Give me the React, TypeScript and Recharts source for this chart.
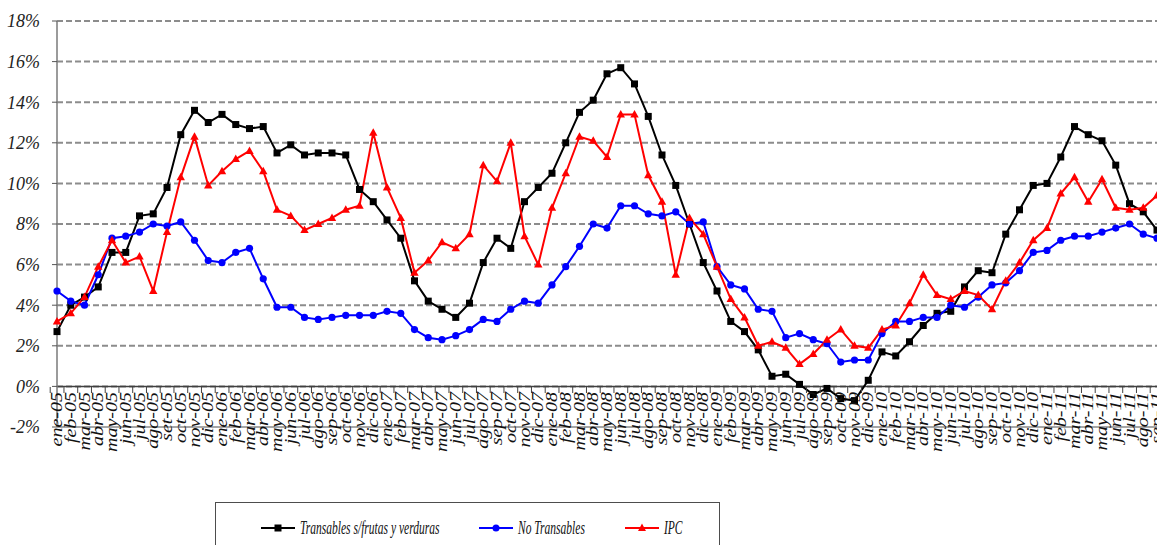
import React from "react";
import { LineChart, Line, XAxis, YAxis, CartesianGrid, ReferenceLine } from "recharts";

const months = [
  "ene-05", "feb-05", "mar-05", "abr-05", "may-05", "jun-05", "jul-05", "ago-05", "set-05", "oct-05", "nov-05", "dic-05",
  "ene-06", "feb-06", "mar-06", "abr-06", "may-06", "jun-06", "jul-06", "ago-06", "sep-06", "oct-06", "nov-06", "dic-06",
  "ene-07", "feb-07", "mar-07", "abr-07", "may-07", "jun-07", "jul-07", "ago-07", "sep-07", "oct-07", "nov-07", "dic-07",
  "ene-08", "feb-08", "mar-08", "abr-08", "may-08", "jun-08", "jul-08", "ago-08", "sep-08", "oct-08", "nov-08", "dic-08",
  "ene-09", "feb-09", "mar-09", "abr-09", "may-09", "jun-09", "jul-09", "ago-09", "sep-09", "oct-09", "nov-09", "dic-09",
  "ene-10", "feb-10", "mar-10", "abr-10", "may-10", "jun-10", "jul-10", "ago-10", "sep-10", "oct-10", "nov-10", "dic-10",
  "ene-11", "feb-11", "mar-11", "abr-11", "may-11", "jun-11", "jul-11", "ago-11", "sep-11",
];

// Transables s/frutas y verduras
const transables = [
  2.7, 4.0, 4.4, 4.9, 6.6, 6.6, 8.4, 8.5, 9.8, 12.4, 13.6, 13.0,
  13.4, 12.9, 12.7, 12.8, 11.5, 11.9, 11.4, 11.5, 11.5, 11.4, 9.7, 9.1,
  8.2, 7.3, 5.2, 4.2, 3.8, 3.4, 4.1, 6.1, 7.3, 6.8, 9.1, 9.8,
  10.5, 12.0, 13.5, 14.1, 15.4, 15.7, 14.9, 13.3, 11.4, 9.9, 8.0, 6.1,
  4.7, 3.2, 2.7, 1.8, 0.5, 0.6, 0.1, -0.4, -0.1, -0.6, -0.7, 0.3,
  1.7, 1.5, 2.2, 3.0, 3.6, 3.7, 4.9, 5.7, 5.6, 7.5, 8.7, 9.9,
  10.0, 11.3, 12.8, 12.4, 12.1, 10.9, 9.0, 8.6, 7.7,
];

const noTransables = [
  4.7, 4.2, 4.0, 5.5, 7.3, 7.4, 7.6, 8.0, 7.9, 8.1, 7.2, 6.2,
  6.1, 6.6, 6.8, 5.3, 3.9, 3.9, 3.4, 3.3, 3.4, 3.5, 3.5, 3.5,
  3.7, 3.6, 2.8, 2.4, 2.3, 2.5, 2.8, 3.3, 3.2, 3.8, 4.2, 4.1,
  5.0, 5.9, 6.9, 8.0, 7.8, 8.9, 8.9, 8.5, 8.4, 8.6, 8.0, 8.1,
  5.9, 5.0, 4.8, 3.8, 3.7, 2.4, 2.6, 2.3, 2.1, 1.2, 1.3, 1.3,
  2.6, 3.2, 3.2, 3.4, 3.4, 4.0, 3.9, 4.4, 5.0, 5.1, 5.7, 6.6,
  6.7, 7.2, 7.4, 7.4, 7.6, 7.8, 8.0, 7.5, 7.3,
];

const ipc = [
  3.2, 3.6, 4.4, 5.9, 7.2, 6.1, 6.4, 4.7, 7.6, 10.3, 12.3, 9.9,
  10.6, 11.2, 11.6, 10.6, 8.7, 8.4, 7.7, 8.0, 8.3, 8.7, 8.9, 12.5,
  9.8, 8.3, 5.6, 6.2, 7.1, 6.8, 7.5, 10.9, 10.1, 12.0, 7.4, 6.0,
  8.8, 10.5, 12.3, 12.1, 11.3, 13.4, 13.4, 10.4, 9.1, 5.5, 8.3, 7.5,
  5.9, 4.3, 3.4, 2.0, 2.2, 1.9, 1.1, 1.6, 2.3, 2.8, 2.0, 1.9,
  2.8, 3.0, 4.1, 5.5, 4.5, 4.3, 4.7, 4.5, 3.8, 5.2, 6.1, 7.2,
  7.8, 9.5, 10.3, 9.1, 10.2, 8.8, 8.7, 8.8, 9.4,
];

const yTicks = [-2, 0, 2, 4, 6, 8, 10, 12, 14, 16, 18];

const data = months.map((m, i) => ({
  mes: m,
  transables: transables[i],
  noTransables: noTransables[i],
  ipc: ipc[i],
}));

const W = 1157;
const H = 545;
const Y_W = 57;
const BAND = (W - Y_W) / months.length;
const FONT = '"Liberation Serif", "Times New Roman", serif';

const MonthTick = (props: any) => {
  const { x, y, payload } = props;
  return (
    <g>
      <line x1={x - BAND / 2} x2={x - BAND / 2} y1={y - 40} y2={y - 34} stroke="#404040" strokeWidth={1} />
      <text
        transform={`translate(${x + 5},${y - 35}) rotate(-90) scale(1.25,1)`}
        textAnchor="end"
        fontFamily={FONT}
        fontStyle="italic"
        fontSize={16}
        fill="#111"
      >
        {payload.value}
      </text>
    </g>
  );
};

const squareDot = (p: any) => (
  <rect key={`sq-${p.index}`} x={p.cx - 3.5} y={p.cy - 3.5} width={7} height={7} fill="#000" />
);
const circleDot = (p: any) => <circle key={`ci-${p.index}`} cx={p.cx} cy={p.cy} r={3.6} fill="#0000ff" />;
const triDot = (p: any) => (
  <polygon
    key={`tr-${p.index}`}
    points={`${p.cx},${p.cy - 4.5} ${p.cx - 4.2},${p.cy + 3} ${p.cx + 4.2},${p.cy + 3}`}
    fill="#ff0000"
  />
);

const LegendItem = ({ left, color, shape, label }: { left: number; color: string; shape: string; label: string }) => (
  <div style={{ position: "absolute", left, top: 14, height: 22, display: "flex", alignItems: "center", whiteSpace: "nowrap" }}>
    <svg width={34} height={10}>
      <line x1={0} x2={34} y1={5} y2={5} stroke={color} strokeWidth={2} />
      {shape === "square" && <rect x={13.5} y={1.5} width={7} height={7} fill={color} />}
      {shape === "circle" && <circle cx={17} cy={5} r={3.5} fill={color} />}
      {shape === "triangle" && <polygon points="17,0.5 13,8 21,8" fill={color} />}
    </svg>
    <span
      style={{
        marginLeft: 5,
        fontFamily: FONT,
        fontStyle: "italic",
        fontSize: 18,
        color: "#111",
        display: "inline-block",
        transform: "scaleX(0.64)",
        transformOrigin: "left center",
      }}
    >
      {label}
    </span>
  </div>
);

export default function App() {
  return (
    <div style={{ position: "absolute", left: 0, top: 0, width: W, height: H, overflow: "hidden", background: "#fff" }}>
      <LineChart width={W} height={H} data={data} margin={{ top: 21, right: 0, left: 0, bottom: 0 }}>
        <CartesianGrid vertical={false} stroke="#8c8c8c" strokeWidth={2} strokeDasharray="6 3" />
        <XAxis
          dataKey="mes"
          interval={0}
          height={118}
          tickSize={0}
          tickMargin={0}
          tickLine={false}
          axisLine={{ stroke: "#a6a6a6", strokeWidth: 2 }}
          tick={<MonthTick />}
        />
        <YAxis
          width={Y_W}
          domain={[-2, 18]}
          ticks={yTicks}
          allowDataOverflow
          tickFormatter={(v: number) => `${v}%`}
          axisLine={{ stroke: "#7a7a7a", strokeWidth: 1.5 }}
          tickLine={{ stroke: "#555" }}
          tickSize={5}
          tickMargin={12}
          tick={{ fontFamily: FONT, fontStyle: "italic", fontSize: 18, fill: "#222" }}
        />
        <ReferenceLine y={0} stroke="#404040" strokeWidth={1.5} />
        <Line
          dataKey="transables"
          name="Transables s/frutas y verduras"
          stroke="#000"
          strokeWidth={2}
          dot={squareDot}
          isAnimationActive={false}
        />
        <Line
          dataKey="noTransables"
          name="No Transables"
          stroke="#0000ff"
          strokeWidth={2}
          dot={circleDot}
          isAnimationActive={false}
        />
        <Line dataKey="ipc" name="IPC" stroke="#ff0000" strokeWidth={2} dot={triDot} isAnimationActive={false} />
      </LineChart>
      <div
        style={{
          position: "absolute",
          left: 215,
          top: 502,
          width: 503,
          height: 70,
          border: "1px solid #4d4d4d",
          background: "#fff",
        }}
      >
        <LegendItem left={45} color="#000" shape="square" label="Transables s/frutas y verduras" />
        <LegendItem left={263} color="#0000ff" shape="circle" label="No Transables" />
        <LegendItem left={409} color="#ff0000" shape="triangle" label="IPC" />
      </div>
    </div>
  );
}
